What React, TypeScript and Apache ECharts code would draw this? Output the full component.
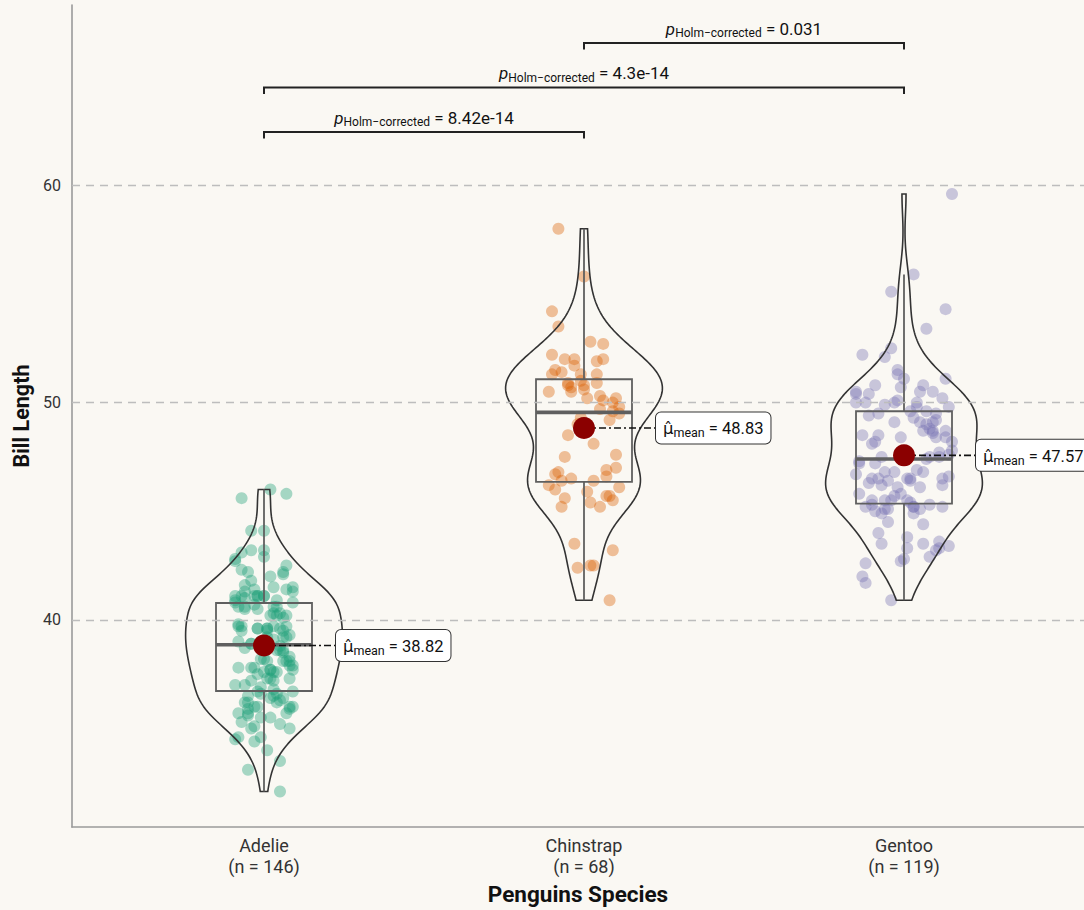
import { useEffect, useRef } from "react";
import * as echarts from "echarts";

const species = ["Adelie", "Chinstrap", "Gentoo"];
const counts = [146, 68, 119];
const meanValues = [38.82, 48.83, 47.57];
const colors = ["#1B9E77", "#D95F02", "#7570B3"];
const yTicks = [40, 50, 60];
const comparisons = [[1, 2], [1, 3], [2, 3]];
const bracketLevels = [62.45, 64.5, 66.55];
const pValues = ["8.42e-14", "4.3e-14", "0.031"];

const adelie = [
  39.1, 39.5, 40.3, 36.7, 39.3, 38.9, 39.2, 41.1, 38.6, 34.6,
  36.6, 38.7, 42.5, 34.4, 46.0, 37.8, 37.7, 35.9, 38.2, 38.8,
  35.3, 40.6, 40.5, 37.9, 40.5, 39.5, 37.2, 39.5, 40.9, 36.4,
  39.2, 38.8, 42.2, 37.6, 39.8, 36.5, 40.8, 36.0, 44.1, 37.0,
  39.6, 41.1, 36.0, 42.3, 39.6, 40.1, 35.0, 42.0, 34.5, 41.4,
  39.0, 40.6, 36.5, 37.6, 35.7, 41.3, 37.6, 41.1, 36.4, 41.6,
  35.5, 41.1, 35.9, 41.8, 33.5, 39.7, 39.6, 45.8, 35.5, 42.8,
  40.9, 37.2, 36.2, 42.1, 34.6, 42.9, 36.7, 35.1, 37.3, 41.3,
  36.3, 36.9, 38.3, 38.9, 35.7, 41.1, 34.0, 39.6, 36.2, 40.8,
  38.1, 40.3, 33.1, 43.2, 35.0, 41.0, 37.7, 37.8, 37.9, 39.7,
  38.6, 38.2, 38.1, 43.2, 38.1, 45.6, 39.7, 42.2, 39.6, 42.7,
  38.6, 37.3, 35.7, 41.1, 36.2, 37.7, 40.2, 41.4, 35.2, 40.6,
  38.8, 41.5, 39.0, 44.1, 38.5, 43.1, 36.8, 37.5, 38.1, 41.1,
  35.6, 40.2, 37.0, 39.7, 40.2, 40.6, 32.1, 40.7, 37.3, 39.0,
  39.2, 36.6, 36.0, 37.8, 36.0, 41.5,
];
const chinstrap = [
  46.5, 50.0, 51.3, 45.4, 52.7, 45.2, 46.1, 51.3, 46.0, 51.3,
  46.6, 51.7, 47.0, 52.0, 45.9, 50.5, 50.3, 58.0, 46.4, 49.2,
  42.4, 48.5, 43.2, 50.6, 46.7, 52.0, 50.5, 49.5, 46.4, 52.8,
  40.9, 54.2, 42.5, 51.0, 49.7, 47.5, 47.6, 52.0, 46.9, 53.5,
  49.0, 46.2, 50.9, 45.5, 50.9, 50.8, 50.1, 49.0, 51.5, 49.8,
  48.1, 51.4, 45.7, 50.7, 42.5, 52.2, 45.2, 49.3, 50.2, 45.6,
  51.9, 46.8, 45.7, 55.8, 43.5, 49.6, 50.8, 50.2,
];
const gentoo = [
  46.1, 50.0, 48.7, 50.0, 47.6, 46.5, 45.4, 46.7, 43.3, 46.8,
  40.9, 49.0, 45.5, 48.4, 45.8, 49.3, 42.0, 49.2, 46.2, 48.7,
  50.2, 45.1, 46.5, 46.3, 42.9, 46.1, 47.8, 48.2, 50.0, 47.3,
  42.8, 45.1, 59.6, 49.1, 48.4, 42.6, 44.4, 44.0, 48.7, 42.7,
  49.6, 45.3, 49.6, 50.5, 43.6, 45.5, 50.5, 44.9, 45.2, 46.6,
  48.5, 45.1, 50.1, 46.5, 45.0, 43.8, 45.5, 43.2, 50.4, 45.3,
  45.7, 54.3, 45.8, 49.8, 49.5, 43.5, 50.7, 47.7, 46.4, 48.2,
  46.5, 46.4, 48.6, 47.5, 51.1, 45.2, 45.2, 49.1, 52.5, 47.4,
  50.0, 44.9, 50.8, 43.4, 51.3, 47.5, 52.1, 47.5, 52.2, 45.5,
  49.5, 44.5, 50.8, 49.4, 46.9, 48.4, 51.1, 48.5, 55.9, 47.2,
  49.1, 46.8, 41.7, 53.4, 43.3, 48.1, 50.5, 49.8, 43.5, 51.5,
  46.2, 55.1, 48.8, 47.2, 46.8, 50.4, 45.2, 49.9, 46.5,
];

// horizontal jitter of each point (hundredths of a category unit)
const adelieJitter = [
  3, -7, 5, -2, 8, -4, 1, -9, 6, -1, 4, -6, 7, -3, 2, -8, 9, -5, 0, 5,
  -7, 3, -2, 8, -6, 1, -4, 6, -9, 2, 7, -1, -5, 4, -8, 3, 9, -3, 0, -6,
  5, -2, 8, -7, 1, 6, -4, 2, -9, 7, -1, 4, -5, 3, -8, 9, 0, -3, 6, -6,
  2, -2, 8, -4, 5, -7, 1, 7, -1, -9, 4, 3, -5, 6, -8, 0, 9, -3, 2, -6,
  5, -1, 8, -4, 7, -7, 1, -2, 4, -9, 6, 3, -5, 0, 8, -6, 2, -3, 9, -8,
  5, -1, 7, -4, 1, -7, 3, 6, -2, -9, 4, 8, -5, 0, -6, 2, 7, -3, 5, -8,
  1, 9, -1, -4, 6, -7, 3, -2, 8, 0, -5, 4, -9, 7, 2, -6, 5, -3, 1, -8,
  6, -1, 9, -4, -2, 3,
];
const chinstrapJitter = [
  -4, 9, -10, 2, 6, -7, 11, -1, -9, 4, 7, -3, 10, -6, 1, -11, 5, -8, 3, 8,
  -2, -5, 9, 0, -9, 6, -4, 11, -7, 2, 8, -10, 3, -1, 5, -6, 10, -3, 7, -8,
  1, -11, 4, 9, -5, 0, 6, -2, -9, 11, 3, -7, 8, -4, 2, -10, 5, -1, 10, -6,
  4, -8, 7, 0, -3, 9, -5, 1,
];
const gentooJitter = [
  5, -12, 9, -3, 14, -8, 2, -15, 11, -6, -4, 7, -10, 13, -1, 3, -13, 10, -7, 6,
  12, -5, 1, -11, 8, -2, 15, -9, 4, -14, 0, -6, 15, -3, 10, -12, 6, -8, 13, -1,
  2, -10, 7, -15, 11, -4, 9, -7, 3, 14, -13, 5, -2, 12, -9, 1, -6, 10, -11, 8,
  -3, 13, -14, 4, -8, 6, -1, 11, -5, 15, -10, 2, 9, -7, 0, 12, -12, 5, -4, 7,
  -15, 3, -9, 14, -2, 8, -6, 11, -13, 1, 10, -5, 6, -11, 4, -1, 13, -8, 3, -14,
  9, -3, -12, 7, 1, -10, 5, 14, -7, -2, 12, -4, 8, -9, 6, -15, 3, -6, 2,
];

const groups = [adelie, chinstrap, gentoo];
const jitters = [adelieJitter, chinstrapJitter, gentooJitter];

const FONT = "Roboto, 'Noto Sans', sans-serif";
const HAT_FONT = "'DejaVu Sans', Roboto, sans-serif";

function quantile(sorted: number[], p: number) {
  const h = (sorted.length - 1) * p;
  const lo = Math.floor(h);
  const hi = Math.min(lo + 1, sorted.length - 1);
  return sorted[lo] + (h - lo) * (sorted[hi] - sorted[lo]);
}
function stdev(a: number[]) {
  const m = a.reduce((s, v) => s + v, 0) / a.length;
  return Math.sqrt(a.reduce((s, v) => s + (v - m) * (v - m), 0) / (a.length - 1));
}
function boxStats(a: number[]) {
  const s = [...a].sort((x, y) => x - y);
  const q1 = quantile(s, 0.25);
  const med = quantile(s, 0.5);
  const q3 = quantile(s, 0.75);
  const iqr = q3 - q1;
  const lo = s.find((v) => v >= q1 - 1.5 * iqr) as number;
  const hi = [...s].reverse().find((v) => v <= q3 + 1.5 * iqr) as number;
  return { q1, med, q3, lo, hi, min: s[0], max: s[s.length - 1], iqr };
}
function density(a: number[]) {
  const st = boxStats(a);
  const bw = 0.9 * Math.min(stdev(a), st.iqr / 1.34) * Math.pow(a.length, -0.2);
  const out: number[][] = [];
  const N = 200;
  for (let k = 0; k <= N; k++) {
    const y = st.min + ((st.max - st.min) * k) / N;
    let d = 0;
    for (const v of a) {
      const z = (y - v) / bw;
      d += Math.exp(-0.5 * z * z);
    }
    out.push([y, d]);
  }
  const mx = Math.max(...out.map((p) => p[1]));
  return out.map((p) => [p[0], p[1] / mx]);
}

export default function App() {
  const ref = useRef<HTMLDivElement>(null);
  useEffect(() => {
    if (!ref.current) return;
    const chart = echarts.init(ref.current, undefined, { renderer: "svg" });
    const stats = groups.map(boxStats);
    const dens = groups.map(density);

    const scatterSeries = groups.map((g, gi) => ({
      type: "scatter",
      z: 2,
      symbolSize: 12,
      itemStyle: { color: colors[gi], opacity: 0.38 },
      data: g.map((v, i) => [gi + 1 + jitters[gi][i] / 100, v]),
      silent: true,
      ...(gi === 0
        ? {
            markLine: {
              silent: true,
              symbol: ["none", "none"],
              label: { show: false },
              lineStyle: { color: "#bdbdbd", width: 1.3, type: [8, 6] },
              data: yTicks.map((t) => ({ yAxis: t })),
            },
          }
        : {}),
    }));

    const centers = species.map((_, i) => [i + 1, meanValues[i]]);

    const option: any = {
      animation: false,
      backgroundColor: "#FAF8F3",
      textStyle: { fontFamily: FONT },
      grid: { left: 72, right: 0, top: 5, bottom: 80 },
      xAxis: {
        type: "value",
        min: 0.4,
        max: 3.5625,
        splitLine: { show: false },
        axisTick: { show: false },
        axisLine: { show: true, lineStyle: { color: "#9a9a9a", width: 1.6 } },
        axisLabel: {
          customValues: [1, 2, 3],
          formatter: (v: number) => `${species[v - 1]}\n(n = ${counts[v - 1]})`,
          fontSize: 18,
          lineHeight: 21,
          color: "#333",
          margin: 8,
          fontFamily: FONT,
        },
        name: "Penguins Species",
        nameLocation: "middle",
        nameGap: 54,
        nameTextStyle: { fontSize: 22.5, fontWeight: "bold", color: "#111", fontFamily: FONT },
      },
      yAxis: {
        type: "value",
        min: 30.46,
        max: 68.3,
        splitLine: { show: false },
        axisTick: { show: false },
        axisLine: { show: true, lineStyle: { color: "#9a9a9a", width: 1.6 } },
        axisLabel: {
          customValues: yTicks,
          fontSize: 16,
          color: "#333",
          margin: 11,
          fontFamily: FONT,
        },
        name: "Bill Length",
        nameLocation: "middle",
        nameGap: 40,
        nameRotate: 90,
        nameTextStyle: { fontSize: 21.5, fontWeight: "bold", color: "#111", fontFamily: FONT },
      },
      series: [
        ...scatterSeries,
        {
          type: "custom",
          z: 3,
          silent: true,
          clip: false,
          encode: { x: 0, y: 1 },
          data: centers,
          renderItem: (params: any, api: any) => {
            const i = params.dataIndex;
            const cx = i + 1;
            const hw = 0.245;
            const left = dens[i].map((p) => api.coord([cx - p[1] * hw, p[0]]));
            const right = dens[i].map((p) => api.coord([cx + p[1] * hw, p[0]])).reverse();
            return {
              type: "polygon",
              shape: { points: [...left, ...right], smooth: 0 },
              style: { fill: "none", stroke: "#333", lineWidth: 1.6 },
            };
          },
        },
        {
          type: "custom",
          z: 4,
          silent: true,
          clip: false,
          encode: { x: 0, y: 1 },
          data: centers,
          renderItem: (params: any, api: any) => {
            const i = params.dataIndex;
            const s = stats[i];
            const cx = i + 1;
            const hw = 0.15;
            const [xl, yq3] = api.coord([cx - hw, s.q3]);
            const [xr, yq1] = api.coord([cx + hw, s.q1]);
            const [xc, ymed] = api.coord([cx, s.med]);
            const yhi = api.coord([cx, s.hi])[1];
            const ylo = api.coord([cx, s.lo])[1];
            const st = { stroke: "#5f5f5f", lineWidth: 1.8 };
            return {
              type: "group",
              children: [
                { type: "line", shape: { x1: xc, y1: yq3, x2: xc, y2: yhi }, style: st },
                { type: "line", shape: { x1: xc, y1: yq1, x2: xc, y2: ylo }, style: st },
                {
                  type: "rect",
                  shape: { x: xl, y: yq3, width: xr - xl, height: yq1 - yq3 },
                  style: { fill: "none", stroke: "#5f5f5f", lineWidth: 1.8 },
                },
                {
                  type: "line",
                  shape: { x1: xl, y1: ymed, x2: xr, y2: ymed },
                  style: { stroke: "#5f5f5f", lineWidth: 3.6 },
                },
              ],
            };
          },
        },
        {
          type: "custom",
          z: 5,
          silent: true,
          clip: false,
          encode: { x: 0, y: 1 },
          data: centers,
          renderItem: (params: any, api: any) => {
            const i = params.dataIndex;
            const cx = i + 1;
            const [x0, y0] = api.coord([cx, meanValues[i]]);
            const [x1] = api.coord([cx + 0.225, meanValues[i]]);
            return {
              type: "group",
              children: [
                {
                  type: "line",
                  shape: { x1: x0, y1: y0, x2: x1, y2: y0 },
                  style: { stroke: "#111", lineWidth: 1.6, lineDash: [7, 3, 2, 3] },
                },
                {
                  type: "text",
                  x: x1,
                  y: y0,
                  z2: 10,
                  style: {
                    text: `{m|μ̂}{s|mean}{v| = ${meanValues[i].toFixed(2)}}`,
                    align: "left",
                    verticalAlign: "middle",
                    backgroundColor: "#ffffff",
                    borderColor: "#333",
                    borderWidth: 1,
                    borderRadius: 5,
                    padding: [6, 7, 4, 7],
                    fill: "#111",
                    fontFamily: FONT,
                    rich: {
                      m: { fontSize: 16.5, lineHeight: 21, fontFamily: HAT_FONT, fill: "#111" },
                      s: {
                        fontSize: 12.5,
                        lineHeight: 13,
                        verticalAlign: "bottom",
                        fontFamily: FONT,
                        fill: "#111",
                      },
                      v: { fontSize: 16.5, lineHeight: 21, fontFamily: FONT, fill: "#111" },
                    },
                  },
                },
              ],
            };
          },
        },
        {
          type: "scatter",
          z: 6,
          silent: true,
          symbolSize: 22,
          itemStyle: { color: "#8B0000", opacity: 1 },
          data: centers,
        },
        {
          type: "custom",
          z: 6,
          silent: true,
          clip: false,
          encode: { x: 0, y: 1 },
          data: comparisons.map((c, i) => [c[0], bracketLevels[i]]),
          renderItem: (params: any, api: any) => {
            const i = params.dataIndex;
            const [a, b] = comparisons[i];
            const lvl = bracketLevels[i];
            const p1 = api.coord([a, lvl - 0.3]);
            const p2 = api.coord([a, lvl]);
            const p3 = api.coord([b, lvl]);
            const p4 = api.coord([b, lvl - 0.3]);
            const mid = api.coord([(a + b) / 2, lvl]);
            return {
              type: "group",
              children: [
                {
                  type: "polyline",
                  shape: { points: [p1, p2, p3, p4] },
                  style: { stroke: "#222", lineWidth: 2, fill: "none" },
                },
                {
                  type: "text",
                  x: mid[0],
                  y: mid[1] - 4,
                  style: {
                    text: `{p|p}{s|Holm−corrected}{v| = ${pValues[i]}}`,
                    align: "center",
                    verticalAlign: "bottom",
                    fill: "#111",
                    fontFamily: FONT,
                    rich: {
                      p: { fontSize: 17, lineHeight: 21, fontStyle: "italic", fontFamily: FONT, fill: "#111" },
                      s: {
                        fontSize: 12,
                        lineHeight: 12,
                        verticalAlign: "bottom",
                        fontFamily: FONT,
                        fill: "#111",
                      },
                      v: { fontSize: 17, lineHeight: 21, fontFamily: FONT, fill: "#111" },
                    },
                  },
                },
              ],
            };
          },
        },
      ],
    };
    chart.setOption(option);
    return () => chart.dispose();
  }, []);
  return (
    <div
      ref={ref}
      style={{ position: "fixed", left: 0, top: 0, width: 1084, height: 910, background: "#FAF8F3" }}
    />
  );
}
